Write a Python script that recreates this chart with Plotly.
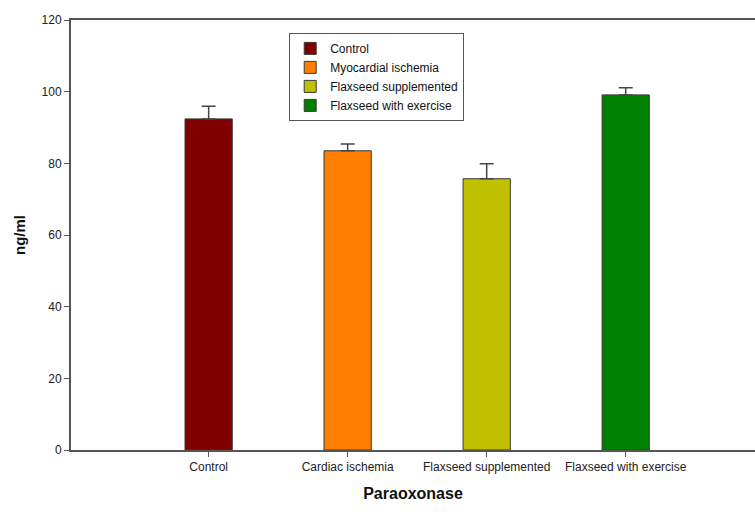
import plotly.graph_objects as go

# Paraoxonase levels (ng/ml), mean with upper error
categories = ["Control", "Cardiac ischemia", "Flaxseed supplemented", "Flaxseed with exercise"]
legend_names = ["Control", "Myocardial ischemia", "Flaxseed supplemented", "Flaxseed with exercise"]
means = [92.4, 83.5, 75.7, 99.1]
errors = [3.5, 1.9, 4.2, 2.0]
colors = ["#800000", "#FF8000", "#C0C000", "#008000"]
y_ticks = [0, 20, 40, 60, 80, 100, 120]

font = "Liberation Sans, Arial, sans-serif"

fig = go.Figure()
for cat, name, m, e, c in zip(categories, legend_names, means, errors, colors):
    fig.add_trace(go.Bar(
        x=[cat], y=[m], name=name,
        marker=dict(color=c, line=dict(color="#3a3a3a", width=1)),
        width=0.34,
        error_y=dict(type="data", symmetric=False, array=[e], arrayminus=[0],
                     color="#444444", thickness=1.5, width=7),
    ))

fig.update_layout(
    width=755, height=512,
    margin=dict(l=71, r=0, t=20, b=62),
    paper_bgcolor="white", plot_bgcolor="white",
    barmode="overlay",
    font=dict(family=font, size=12, color="#222222"),
    showlegend=True,
    legend=dict(
        x=0.319, y=0.97, xanchor="left", yanchor="top",
        bordercolor="#555555", borderwidth=1, bgcolor="white",
        font=dict(family=font, size=12, color="#111111"),
        tracegroupgap=0,
    ),
    xaxis=dict(
        categoryorder="array", categoryarray=categories,
        range=[-0.99, 3.93],
        showgrid=False, zeroline=False,
        showline=True, linecolor="#555555", linewidth=2, mirror=True,
        ticks="outside", ticklen=5, tickcolor="#555555",
        tickfont=dict(family=font, size=12, color="#222222"),
        title=dict(text="<b>Paraoxonase</b>", font=dict(family=font, size=16, color="#111111"),
                   standoff=14),
    ),
    yaxis=dict(
        range=[0, 120], tickvals=y_ticks,
        showgrid=False, zeroline=False,
        showline=True, linecolor="#555555", linewidth=2,
        ticks="outside", ticklen=5, tickcolor="#555555",
        tickfont=dict(family=font, size=12, color="#222222"),
        title=dict(text="<b>ng/ml</b>", font=dict(family=font, size=15, color="#111111"),
                   standoff=12),
    ),
)

fig.write_html("out.html")
